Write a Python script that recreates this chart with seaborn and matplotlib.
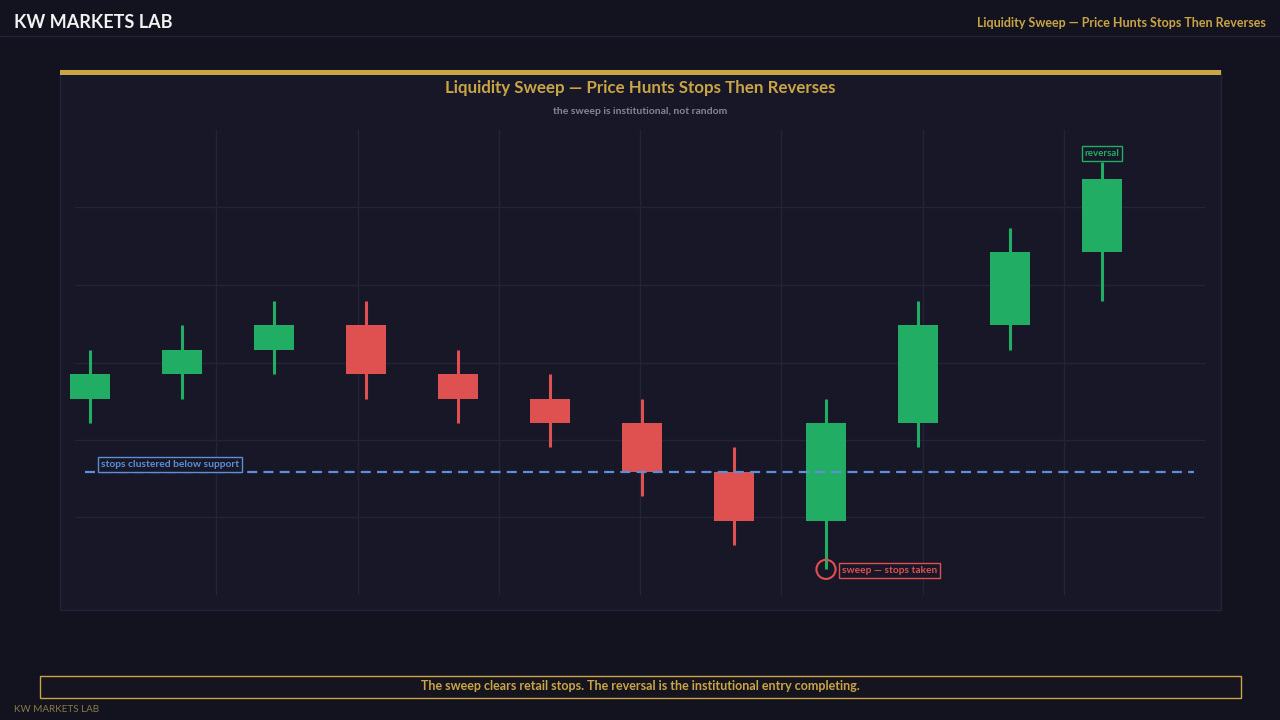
import numpy as np
import pandas as pd
import seaborn as sns
import matplotlib.pyplot as plt
from matplotlib.patches import Rectangle

sns.set_theme(style='dark')
plt.rcParams['font.family'] = ['Lato', 'DejaVu Sans']

# candle data
opens = [99, 100, 101, 102, 100, 99, 98, 96, 94, 98, 102, 105]
closes = [100, 101, 102, 100, 99, 98, 96, 94, 98, 102, 105, 108]
highs = [101, 102, 103, 103, 101, 100, 99, 97, 99, 103, 106, 108.7]
lows = [98, 99, 100, 99, 98, 97, 95, 93, 92, 97, 101, 103]
support = 96
sweep_idx = 8
reversal_idx = 11

df = pd.DataFrame({'open': opens, 'close': closes, 'high': highs, 'low': lows})
df['x'] = np.arange(len(df))
df['up'] = df['close'] >= df['open']

BG = '#13121f'
PANEL = '#181727'
GRID = '#24233a'
GOLD = '#c9a545'
GREEN = '#22ad64'
RED = '#df5150'
BLUE = '#5b8fd9'

fig = plt.figure(figsize=(12.8, 7.2), dpi=100, facecolor=BG)

# header
fig.text(14/1280, 1-23/720, 'KW MARKETS LAB', color='#f2f2f2', fontsize=13,
         fontweight='bold', va='center', ha='left')
fig.text(1266/1280, 1-23/720, 'Liquidity Sweep \u2014 Price Hunts Stops Then Reverses',
         color=GOLD, fontsize=9.0, fontweight='bold', va='center', ha='right')
fig.add_artist(plt.Line2D([0, 1], [1-36/720, 1-36/720], color='#24233a', lw=1))

# panel
fig.add_artist(Rectangle((60/1280, 1-610/720), 1161/1280, 540/720, facecolor=PANEL,
                         edgecolor='#24233a', lw=1, transform=fig.transFigure, zorder=0))
fig.add_artist(Rectangle((60/1280, 1-75/720), 1161/1280, 5/720, facecolor=GOLD,
                         edgecolor='none', transform=fig.transFigure, zorder=1))
fig.text(640/1280, 1-88.5/720, 'Liquidity Sweep \u2014 Price Hunts Stops Then Reverses',
         color=GOLD, fontsize=12.2, fontweight='bold', ha='center', va='center')
fig.text(640/1280, 1-111.5/720, 'the sweep is institutional, not random',
         color='#85849a', fontsize=7.5, fontweight='bold', ha='center', va='center')

ax = fig.add_axes([75/1280, 1-595/720, 1130/1280, 465/720])
ax.set_facecolor(PANEL)
for s in ax.spines.values():
    s.set_visible(False)

xlim = (-15/92, 1115/92)
ylim = (90.95, 110)
ax.set_xlim(*xlim)
ax.set_ylim(*ylim)
ax.set_xticks(np.linspace(*xlim, 9)[1:-1])
ax.set_yticks(np.linspace(*ylim, 7)[1:-1])
ax.tick_params(length=0, labelbottom=False, labelleft=False)
ax.grid(True, color=GRID, lw=1)

colors = df['up'].map({True: GREEN, False: RED})
ax.vlines(df['x'], df['low'], df['high'], colors=colors, lw=2.2, zorder=2)
body_lo = df[['open', 'close']].min(axis=1)
body_h = (df['close'] - df['open']).abs()
ax.bar(df['x'], body_h, bottom=body_lo, width=0.435, color=colors,
       edgecolor='none', linewidth=0, zorder=3, clip_on=False)

# support line
ax.hlines(support, -0.05, 12.0, colors=BLUE, lw=1.6, linestyles=(0, (4.5, 2.8)), zorder=4)
ax.text(0.12, support + 0.12, 'stops clustered below support', color=BLUE, fontsize=7.4,
        fontweight='bold', ha='left', va='bottom', zorder=5,
        bbox=dict(boxstyle='square,pad=0.3', fc=PANEL, ec=BLUE, lw=1))

# sweep marker
sweep = df.iloc[[sweep_idx]]
sns.scatterplot(data=sweep, x='x', y='low', s=190, facecolor='none', edgecolor=RED,
                linewidth=1.5, ax=ax, zorder=6, legend=False)
ax.text(sweep_idx + 0.17, lows[sweep_idx] - 0.05, 'sweep \u2014 stops taken', color=RED,
        fontsize=7.3, fontweight='bold', ha='left', va='center', zorder=5,
        bbox=dict(boxstyle='square,pad=0.3', fc=PANEL, ec=RED, lw=1))

# reversal label
ax.text(reversal_idx, highs[reversal_idx] + 0.14, 'reversal', color=GREEN, fontsize=7,
        fontweight='bold', ha='center', va='bottom', zorder=5,
        bbox=dict(boxstyle='square,pad=0.3', fc=PANEL, ec=GREEN, lw=1))
ax.set_xlabel('')
ax.set_ylabel('')

# footer
fig.add_artist(Rectangle((40/1280, 1-698/720), 1201/1280, 22/720, facecolor='#15141f',
                         edgecolor=GOLD, lw=1, transform=fig.transFigure))
fig.text(640/1280, 1-686/720,
         'The sweep clears retail stops. The reversal is the institutional entry completing.',
         color=GOLD, fontsize=9.0, fontweight='bold', ha='center', va='center')
fig.text(14/1280, 1-710/720, 'KW MARKETS LAB', color='#8a7a45', fontsize=7.1,
         ha='left', va='center')

fig.savefig('out.png', dpi=100, facecolor=BG)
